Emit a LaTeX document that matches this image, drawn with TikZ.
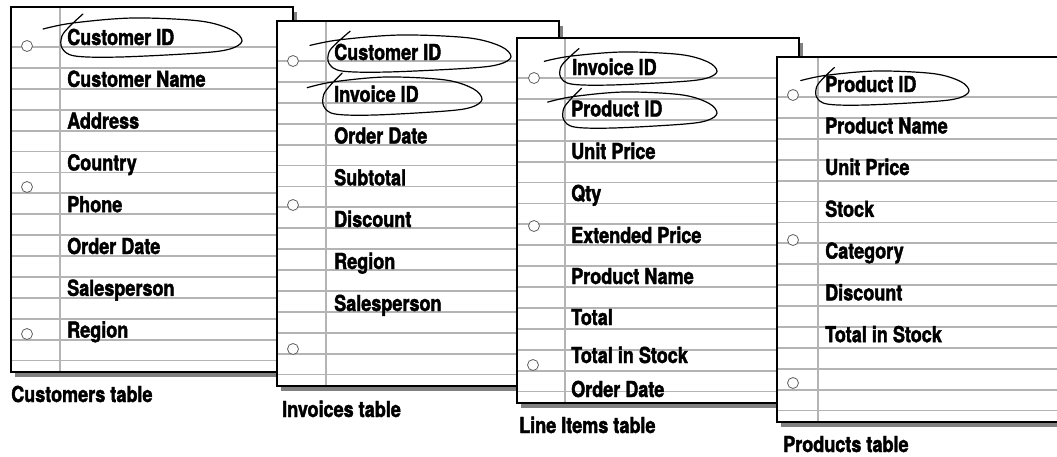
\documentclass[tikz,border=0pt]{standalone}
\usepackage{fontspec}
\newfontfamily\itemfam{TeX Gyre Heros}[FakeStretch=0.82, BoldFeatures={FakeBold=1.8}]
\definecolor{shadowgray}{HTML}{808080}
\definecolor{rulegray}{HTML}{B4B4B4}
\definecolor{holegray}{HTML}{606060}
\tikzset{
  rule/.style={draw=rulegray, line width=1.8pt},
  border/.style={draw=black, line width=1.3pt},
  hole/.style={circle, draw=holegray, fill=white, line width=0.8pt, inner sep=0pt, minimum size=11pt},
  item/.style={anchor=base west, inner sep=0pt, font=\itemfam\bfseries\fontsize{22}{26}\selectfont},
  pen/.style={draw=black, line width=1.2pt, line cap=round, line join=round},
}
\newcommand\papertable[3]{%
  \fill[shadowgray] (#1+4,#2+5) rectangle (#1+286,#2+370);
  \fill[white] (#1,#2) rectangle (#1+282,#2+365);
  \foreach \k in {0,...,15} {\draw[rule] (#1,#2+40+20.9*\k) -- (#1+282,#2+40+20.9*\k);}
  \draw[rule] (#1+#3,#2) -- (#1+#3,#2+365);
  \draw[border] (#1,#2) rectangle (#1+282,#2+365);
}
\newcommand\penloop[4]{%
  \draw[pen] plot[smooth, tension=0.55] coordinates {
    ({#1-0.093*(#3-#1)},{#2+0.282*(#4-#2)})
    ({#1+0.071*(#3-#1)},{#2+0.128*(#4-#2)})
    ({#1+0.401*(#3-#1)},{#2})
    ({#1+0.769*(#3-#1)},{#2+0.077*(#4-#2)})
    ({#1+0.945*(#3-#1)},{#2+0.308*(#4-#2)})
    ({#3},{#2+0.59*(#4-#2)})
    ({#1+0.934*(#3-#1)},{#2+0.795*(#4-#2)})
    ({#1+0.769*(#3-#1)},{#2+0.897*(#4-#2)})
    ({#1+0.330*(#3-#1)},{#4})
    ({#1+0.082*(#3-#1)},{#2+0.974*(#4-#2)})
    ({#1+0.011*(#3-#1)},{#2+0.769*(#4-#2)})
    ({#1+0.011*(#3-#1)},{#2+0.462*(#4-#2)})
    ({#1+0.055*(#3-#1)},{#2+0.205*(#4-#2)})
    ({#1+0.126*(#3-#1)},{#2-0.103*(#4-#2)})
  };
}
\begin{document}
\begin{tikzpicture}[x=1pt,y=-1pt]
\useasboundingbox (0,0) rectangle (1057,456);
\fill[white] (0,0) rectangle (1057,456);

% ---------- Customers table ----------
\papertable{11}{7}{49}
\node[hole] (c1) at (27,46) {};
\node[hole] (c2) at (27,187) {};
\node[hole] (c3) at (27,334) {};
\node[item] (ta1) at (67,45) {Customer ID};
\node[item] (ta2) at (67,86.8) {Customer Name};
\node[item] (ta3) at (67,128.6) {Address};
\node[item] (ta4) at (67,170.4) {Country};
\node[item] (ta5) at (67,212.2) {Phone};
\node[item] (ta6) at (67,254) {Order Date};
\node[item] (ta7) at (67,295.8) {Salesperson};
\node[item] (ta8) at (67,337.6) {Region};
\penloop{60}{18}{242}{57}
\node[item] (la) at (11,402) {Customers table};

% ---------- Invoices table ----------
\papertable{277}{21}{49}
\node[hole] (i1) at (293,61) {};
\node[hole] (i2) at (293,205) {};
\node[hole] (i3) at (293,349) {};
\node[item] (tb1) at (334,60) {Customer ID};
\node[item] (tb2) at (334,102) {Invoice ID};
\node[item] (tb3) at (334,143.5) {Order Date};
\node[item] (tb4) at (334,185.3) {Subtotal};
\node[item] (tb5) at (334,227) {Discount};
\node[item] (tb6) at (334,269) {Region};
\node[item] (tb7) at (334,311) {Salesperson};
\penloop{327}{35}{511}{72}
\penloop{322}{77}{482}{115}
\node[item] (lb) at (282,417) {Invoices table};

% ---------- Line Items table ----------
\papertable{517}{38}{48}
\node[hole] (l1) at (534,78) {};
\node[hole] (l2) at (534,226) {};
\node[hole] (l3) at (533,365) {};
\node[item] (tc1) at (572,75) {Invoice ID};
\node[item] (tc2) at (571,116.5) {Product ID};
\node[item] (tc3) at (571,159) {Unit Price};
\node[item] (tc4) at (571,201) {Qty};
\node[item] (tc5) at (571,243) {Extended Price};
\node[item] (tc6) at (571,284) {Product Name};
\node[item] (tc7) at (571,325) {Total};
\node[item] (tc8) at (571,363) {Total in Stock};
\node[item] (tc9) at (571,397) {Order Date};
\penloop{559}{52}{717}{85}
\penloop{562}{92}{717}{128}
\node[item] (lc) at (519,433) {Line Items table};

% ---------- Products table ----------
\papertable{777}{57}{41}
\node[hole] (p1) at (793,95) {};
\node[hole] (p2) at (793,240) {};
\node[hole] (p3) at (793,383) {};
\node[item] (td1) at (825,92) {Product ID};
\node[item] (td2) at (825,133.5) {Product Name};
\node[item] (td3) at (825,175) {Unit Price};
\node[item] (td4) at (825,216.8) {Stock};
\node[item] (td5) at (825,258.6) {Category};
\node[item] (td6) at (825,300.4) {Discount};
\node[item] (td7) at (825,342.2) {Total in Stock};
\penloop{815}{71}{969}{105}
\node[item] (ld) at (783,452) {Products table};
\end{tikzpicture}
\end{document}
